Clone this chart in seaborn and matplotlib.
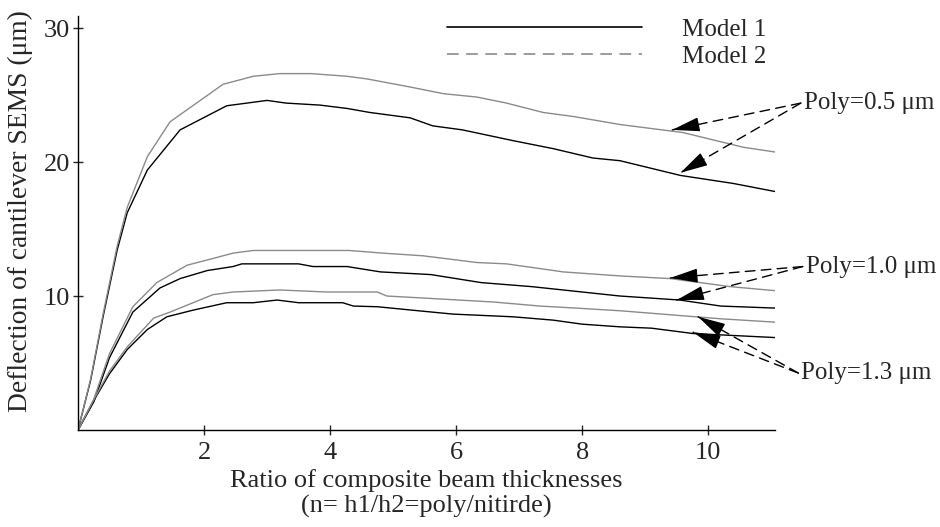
import matplotlib
matplotlib.use("Agg")
import numpy as np
import matplotlib.pyplot as plt
from matplotlib.lines import Line2D
import seaborn as sns

# ==================================
# DATA
# ==================================

# Poly = 0.5 um
x_05_m1 = [0, 0.2, 0.4, 0.62, 0.78, 1.1, 1.62, 2.36, 3.0, 3.3, 3.84, 4.27, 4.63,
           5.27, 5.63, 6.1, 6.9, 7.54, 8.17, 8.6, 9.56, 10.4, 11.06]
y_05_m1 = [0, 3.7, 8.5, 13.4, 16.2, 19.4, 22.4, 24.2, 24.6, 24.4, 24.25, 24.0, 23.7,
           23.3, 22.7, 22.4, 21.6, 21.0, 20.3, 20.1, 19.0, 18.4, 17.8]
x_05_m2 = [0, 0.2, 0.4, 0.62, 0.78, 1.1, 1.46, 2.3, 2.78, 3.2, 3.7, 4.27, 4.59,
           5.27, 5.8, 6.33, 6.8, 7.38, 7.86, 8.6, 9.6, 10.56, 11.06]
y_05_m2 = [0, 3.8, 8.7, 13.7, 16.6, 20.4, 23.0, 25.8, 26.4, 26.6, 26.6, 26.4, 26.2,
           25.6, 25.1, 24.85, 24.4, 23.7, 23.4, 22.8, 22.2, 21.1, 20.75]

# Poly = 1.0 um
x_10_m1 = [0, 0.25, 0.5, 0.87, 1.3, 1.62, 2.05, 2.46, 2.6, 3.5, 3.73, 4.27, 4.8,
           5.6, 6.0, 6.4, 7.2, 8.0, 8.6, 9.55, 10.2, 11.06]
y_10_m1 = [0, 2.1, 5.4, 8.8, 10.6, 11.3, 11.9, 12.2, 12.4, 12.4, 12.2, 12.2, 11.8,
           11.6, 11.3, 11.0, 10.7, 10.3, 10.0, 9.7, 9.25, 9.1]
x_10_m2 = [0, 0.25, 0.5, 0.87, 1.25, 1.73, 2.14, 2.46, 2.78, 4.3, 4.84, 5.48, 6.33,
           6.8, 7.7, 8.6, 9.4, 10.35, 11.06]
y_10_m2 = [0, 2.3, 5.7, 9.2, 11.0, 12.3, 12.8, 13.2, 13.4, 13.4, 13.2, 13.0, 12.5,
           12.4, 11.8, 11.5, 11.3, 10.7, 10.4]

# Poly = 1.3 um
x_13_m1 = [0, 0.3, 0.5, 0.78, 1.1, 1.41, 1.83, 2.36, 2.78, 3.16, 3.5, 4.2, 4.37,
           4.75, 5.4, 5.95, 6.9, 7.54, 8.0, 8.6, 9.1, 9.76, 10.2, 11.06]
y_13_m1 = [0, 2.6, 4.2, 6.0, 7.5, 8.45, 8.95, 9.5, 9.5, 9.7, 9.5, 9.5, 9.25,
           9.2, 8.9, 8.65, 8.45, 8.2, 7.9, 7.7, 7.6, 7.2, 7.1, 6.9]
x_13_m2 = [0, 0.3, 0.5, 0.78, 1.2, 1.46, 2.14, 2.46, 3.2, 3.95, 4.75, 4.9, 5.48,
           6.6, 7.33, 7.9, 8.6, 9.67, 10.2, 11.06]
y_13_m2 = [0, 2.7, 4.4, 6.2, 8.35, 8.8, 10.1, 10.3, 10.45, 10.3, 10.3, 10.0, 9.85,
           9.55, 9.25, 9.1, 8.9, 8.5, 8.3, 8.05]

x_ticks = [2, 4, 6, 8, 10]
y_ticks = [10, 20, 30]

# annotation labels, text anchor and arrow tips (data coords)
poly_labels = ["Poly=0.5 \u03bcm", "Poly=1.0 \u03bcm", "Poly=1.3 \u03bcm"]
label_pos = [(11.52, 24.4), (11.55, 12.2), (11.48, 4.25)]
arrow_tips = [[(9.43, 22.4), (9.56, 19.2)],
              [(9.40, 11.35), (9.50, 9.7)],
              [(9.84, 8.45), (9.76, 7.3)]]

# ==================================
# STYLE
# ==================================

sns.set_style("ticks")
plt.rcParams["font.family"] = ["Liberation Serif", "DejaVu Serif"]

FS = 19
FS_SMALL = 18
M1_COLOR = "black"
M2_COLOR = "#8a8a8a"

fig = plt.figure(figsize=(9.4, 5.27), dpi=100)
ax = fig.add_axes([78 / 940, 1 - 430 / 527, (775 - 78) / 940, (430 - 16) / 527])

curves = [
    (x_05_m1, y_05_m1, M1_COLOR), (x_05_m2, y_05_m2, M2_COLOR),
    (x_10_m1, y_10_m1, M1_COLOR), (x_10_m2, y_10_m2, M2_COLOR),
    (x_13_m1, y_13_m1, M1_COLOR), (x_13_m2, y_13_m2, M2_COLOR),
]
for xs, ys, col in curves:
    sns.lineplot(x=xs, y=ys, color=col, linewidth=1.0, ax=ax, sort=False)

ax.set_xlim(0, 11.06)
ax.set_ylim(0, 30.9)
ax.set_xticks(x_ticks)
ax.set_yticks(y_ticks)
ax.tick_params(direction="inout", length=7, width=1, labelsize=FS)
ax.tick_params(axis="x", pad=5)
ax.tick_params(axis="y", pad=2)
sns.despine(ax=ax)
for s in ["left", "bottom"]:
    ax.spines[s].set_linewidth(1.0)
    ax.spines[s].set_color("black")

ax.set_xlabel("Ratio of composite beam thicknesses\n(n= h1/h2=poly/nitirde)",
              fontsize=FS, labelpad=4, linespacing=1.17)
ax.set_ylabel("Deflection of cantilever SEMS (\u03bcm)", fontsize=19.8)
ax.yaxis.set_label_coords(-0.064, 0.53)

# ==================================
# ANNOTATIONS
# ==================================

HEAD_PX = 24

for label, (tx, ty), tips in zip(poly_labels, label_pos, arrow_tips):
    ax.text(tx, ty, label, fontsize=FS_SMALL, ha="left", va="center", clip_on=False)
    tail = (tx - 0.05, ty)
    for tip in tips:
        # dashed shaft
        ax.annotate("", xy=tip, xytext=tail, annotation_clip=False,
                    arrowprops=dict(arrowstyle="-", linestyle=(0, (7, 4.5)),
                                    linewidth=1.0, color="black",
                                    shrinkA=0, shrinkB=0))
        # solid head
        p_tip = ax.transData.transform(tip)
        p_tail = ax.transData.transform(tail)
        d = (p_tail - p_tip) / np.hypot(*(p_tail - p_tip))
        back = ax.transData.inverted().transform(p_tip + d * HEAD_PX)
        ax.annotate("", xy=tip, xytext=tuple(back), annotation_clip=False,
                    arrowprops=dict(arrowstyle="-|>,head_length=0.85,head_width=0.22",
                                    mutation_scale=20, linewidth=1.0,
                                    color="black", shrinkA=0, shrinkB=0))

# ==================================
# LEGEND
# ==================================

handles = [Line2D([], [], color=M1_COLOR, linewidth=1.2),
           Line2D([], [], color=M2_COLOR, linewidth=1.2, linestyle=(0, (7, 4.5)))]
ax.legend(handles, ["Model 1", "Model 2"], loc="upper left",
          bbox_to_anchor=(447 / 940, 1 - 18 / 527), bbox_transform=fig.transFigure,
          frameon=False, fontsize=FS_SMALL, handlelength=7.8, handletextpad=1.6,
          labelspacing=0.2, borderpad=0, borderaxespad=0)

fig.savefig("out.png", dpi=100)
